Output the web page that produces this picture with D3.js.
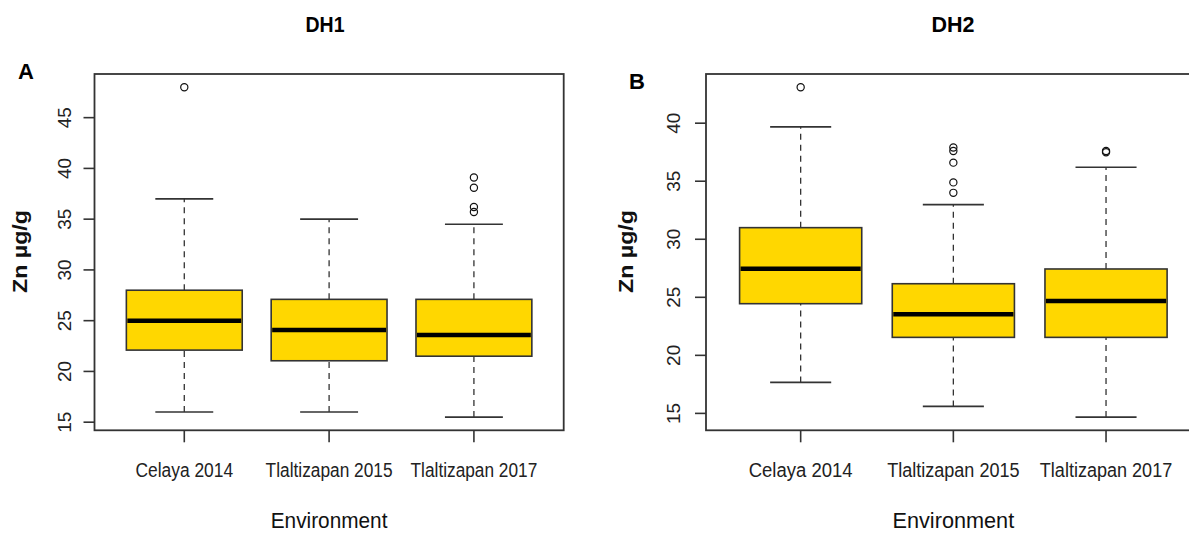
<!DOCTYPE html>
<html>
<head>
<meta charset="utf-8">
<script src="https://cdn.jsdelivr.net/npm/d3@7"></script>
<style>
  html, body { margin: 0; padding: 0; background: #fff; }
  svg { display: block; font-family: "Liberation Sans", Arial, sans-serif; }
</style>
</head>
<body>
<svg id="chart" width="1189" height="533"></svg>
<script>
// Zn concentration (µg/g) by environment, two DH populations
const environments = ["Celaya 2014", "Tlaltizapan 2015", "Tlaltizapan 2017"];

// five-number summaries: [lower whisker, Q1, median, Q3, upper whisker]
const dh1Stats = [
  [16.0, 22.1, 25.0, 28.0, 37.0],
  [16.0, 21.05, 24.07, 27.1, 35.0],
  [15.5, 21.5, 23.6, 27.1, 34.5]
];
const dh1Outliers = [
  [48.0],
  [],
  [39.1, 38.1, 36.2, 35.7]
];

const dh2Stats = [
  [17.67, 24.45, 27.47, 31.0, 39.68],
  [15.6, 21.55, 23.53, 26.17, 32.98],
  [14.68, 21.55, 24.68, 27.44, 36.2]
];
const dh2Outliers = [
  [43.1],
  [37.9, 37.6, 36.6, 34.9, 34.0],
  [37.6, 37.5]
];

const dh1Ticks = [15, 20, 25, 30, 35, 40, 45];
const dh2Ticks = [15, 20, 25, 30, 35, 40];

const svg = d3.select("#chart");

const panels = [
  {
    title: "DH1", letter: "A", stats: dh1Stats, outliers: dh1Outliers, ticks: dh1Ticks,
    x0: 94.5, x1: 563.7, titleX: 325, titleW: 39,
    letterX: 18, letterY: 79,
    tickLabelX: 71, ylabX: 27,
    xlabW: [97.6, 127, 126.7], envW: 116.7
  },
  {
    title: "DH2", letter: "B", stats: dh2Stats, outliers: dh2Outliers, ticks: dh2Ticks,
    x0: 706, x1: 1200.7, titleX: 953, titleW: 43,
    letterX: 629, letterY: 89,
    tickLabelX: 680, ylabX: 633,
    xlabW: [104, 132.4, 132.4], envW: 121.7
  }
];

const plotTop = 74, plotBottom = 430.3;
const axisColor = "#333";

panels.forEach(p => {
  const g = svg.append("g");

  // y-range from data extent padded by 4% each side
  const allVals = p.stats.flat().concat(p.outliers.flat());
  const [mn, mx] = d3.extent(allVals);
  const pad = (mx - mn) * 0.04;
  const y = d3.scaleLinear().domain([mn - pad, mx + pad]).range([plotBottom, plotTop]);
  const x = d3.scaleLinear().domain([0.38, 3.62]).range([p.x0, p.x1]);
  const idx = p.stats.map((_, i) => i + 1);
  const unit = x(2) - x(1);
  const boxW = 0.8 * unit, capW = 0.4 * unit;

  // title
  g.append("text")
    .attr("x", p.titleX).attr("y", 32)
    .attr("text-anchor", "middle")
    .attr("font-size", 22).attr("font-weight", "bold")
    .attr("textLength", p.titleW).attr("lengthAdjust", "spacingAndGlyphs")
    .attr("fill", "#000")
    .text(p.title);

  // panel letter
  g.append("text")
    .attr("x", p.letterX).attr("y", p.letterY)
    .attr("font-size", 22).attr("font-weight", "bold")
    .attr("fill", "#000")
    .text(p.letter);

  // whiskers (dashed) and caps
  p.stats.forEach((s, i) => {
    const cx = x(idx[i]);
    g.append("line")
      .attr("x1", cx).attr("x2", cx).attr("y1", y(s[0])).attr("y2", y(s[1]))
      .attr("stroke", axisColor).attr("stroke-width", 1.3).attr("stroke-dasharray", "6,5");
    g.append("line")
      .attr("x1", cx).attr("x2", cx).attr("y1", y(s[3])).attr("y2", y(s[4]))
      .attr("stroke", axisColor).attr("stroke-width", 1.3).attr("stroke-dasharray", "6,5");
    [s[0], s[4]].forEach(v => {
      g.append("line")
        .attr("x1", cx - capW / 2).attr("x2", cx + capW / 2)
        .attr("y1", y(v)).attr("y2", y(v))
        .attr("stroke", axisColor).attr("stroke-width", 1.6);
    });
    // box
    g.append("rect")
      .attr("x", cx - boxW / 2).attr("width", boxW)
      .attr("y", y(s[3])).attr("height", y(s[1]) - y(s[3]))
      .attr("fill", "#FFD700").attr("stroke", axisColor).attr("stroke-width", 1.6);
    // median
    g.append("line")
      .attr("x1", cx - boxW / 2 + 1).attr("x2", cx + boxW / 2 - 1)
      .attr("y1", y(s[2])).attr("y2", y(s[2]))
      .attr("stroke", "#000").attr("stroke-width", 4.5);
    // outliers
    p.outliers[i].forEach(v => {
      g.append("circle")
        .attr("cx", cx).attr("cy", y(v)).attr("r", 3.6)
        .attr("fill", "none").attr("stroke", "#111").attr("stroke-width", 1.2);
    });
  });

  // plot frame
  g.append("rect")
    .attr("x", p.x0).attr("y", plotTop)
    .attr("width", p.x1 - p.x0).attr("height", plotBottom - plotTop)
    .attr("fill", "none").attr("stroke", axisColor).attr("stroke-width", 1.8);

  // y axis ticks and rotated labels
  const yAxis = g.append("g");
  p.ticks.forEach(t => {
    yAxis.append("line")
      .attr("x1", p.x0 - 11).attr("x2", p.x0)
      .attr("y1", y(t)).attr("y2", y(t))
      .attr("stroke", axisColor).attr("stroke-width", 1.6);
    yAxis.append("text")
      .attr("transform", `translate(${p.tickLabelX},${y(t)}) rotate(-90)`)
      .attr("text-anchor", "middle")
      .attr("font-size", 19)
      .attr("fill", "#222")
      .text(t);
  });

  // x axis ticks and category labels
  environments.forEach((name, i) => {
    const cx = x(idx[i]);
    g.append("line")
      .attr("x1", cx).attr("x2", cx).attr("y1", plotBottom).attr("y2", plotBottom + 12)
      .attr("stroke", axisColor).attr("stroke-width", 1.6);
    g.append("text")
      .attr("x", cx).attr("y", 477)
      .attr("text-anchor", "middle")
      .attr("font-size", 20)
      .attr("textLength", p.xlabW[i]).attr("lengthAdjust", "spacingAndGlyphs")
      .attr("fill", "#222")
      .text(name);
  });

  // axis titles
  g.append("text")
    .attr("x", x(2)).attr("y", 528)
    .attr("text-anchor", "middle")
    .attr("font-size", 22)
    .attr("textLength", p.envW).attr("lengthAdjust", "spacingAndGlyphs")
    .attr("fill", "#111")
    .text("Environment");

  g.append("text")
    .attr("transform", `translate(${p.ylabX},251.5) rotate(-90)`)
    .attr("text-anchor", "middle")
    .attr("font-size", 21).attr("font-weight", "bold")
    .attr("textLength", 83).attr("lengthAdjust", "spacingAndGlyphs")
    .attr("fill", "#111")
    .text("Zn µg/g");
});
</script>
</body>
</html>
